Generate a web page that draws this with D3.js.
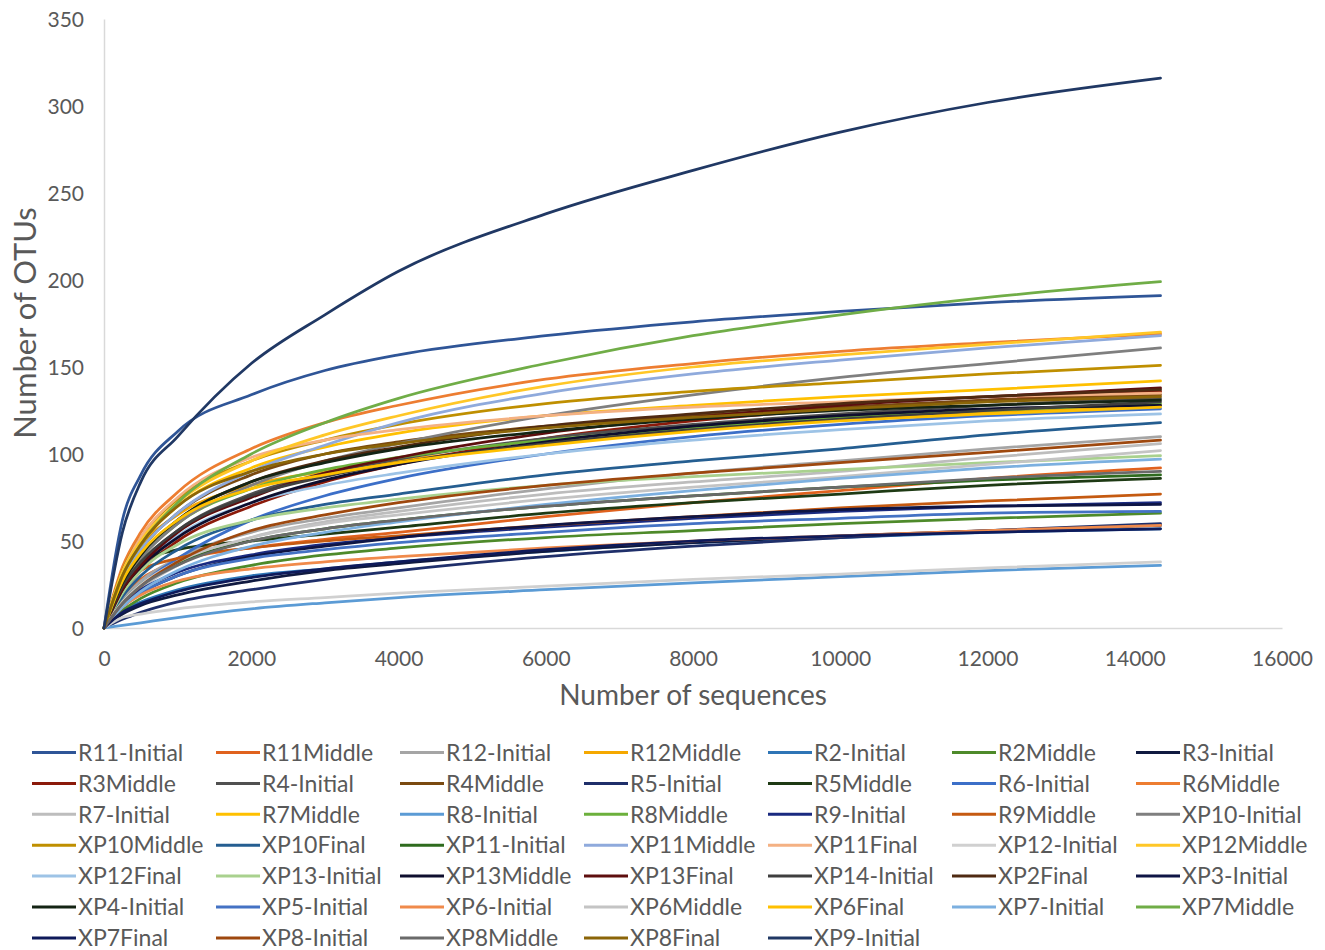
<!DOCTYPE html>
<html>
<head>
<meta charset="utf-8">
<script src="https://cdn.jsdelivr.net/npm/d3@7"></script>
<style>
  body { margin: 0; background: #fff; }
  svg text { font-family: Lato, "Open Sans", sans-serif; fill: #595959; }
</style>
</head>
<body>
<div id="graph-holder"></div>
<script>
// sample points along the x axis (number of sequences)
var seqCounts = [0, 250, 500, 1000, 2000, 3000, 4000, 6000, 8000, 10000, 12000, 14350];

// OTU counts at those sample points
var R11_Initial = [0, 62, 88, 113, 134, 148, 157, 168, 176, 182, 187, 191];
var R11Middle   = [0, 18, 28, 38, 46, 51, 55, 64, 72, 79, 86, 92];
var R12_Initial = [0, 16, 27, 40, 55, 63, 69, 80, 89, 96, 103, 110];
var R12Middle   = [0, 30, 47, 65, 82, 90, 96, 106, 114, 120, 124, 128];
var R2_Initial  = [0, 10, 15, 22, 30, 34, 38, 44, 49, 52, 55, 57];
var R2Middle    = [0, 10, 17, 26, 36, 42, 46, 52, 56, 60, 63, 66];
var R3_Initial  = [0, 8, 13, 19, 27, 33, 37, 44, 49, 53, 56, 59];
var R3Middle    = [0, 20, 33, 50, 70, 84, 94, 109, 119, 126, 131, 136];
var R4_Initial  = [0, 23, 37, 56, 77, 89, 97, 109, 117, 123, 128, 132];
var R4Middle    = [0, 28, 45, 66, 88, 100, 107, 116, 122, 127, 131, 134];
var R5_Initial  = [0, 5, 9, 15, 22, 28, 33, 41, 47, 52, 56, 60];
var R5Middle    = [0, 28, 38, 45, 50, 54, 58, 66, 72, 77, 82, 86];
var R6_Initial  = [0, 15, 25, 40, 62, 76, 86, 100, 110, 117, 122, 126];
var R6Middle    = [0, 35, 55, 78, 103, 118, 128, 143, 152, 159, 164, 169];
var R7_Initial  = [0, 14, 23, 36, 52, 61, 67, 77, 84, 90, 98, 106];
var R7Middle    = [0, 30, 48, 70, 92, 104, 112, 122, 128, 133, 137, 142];
var R8_Initial  = [0, 1.5, 3, 6, 11, 14.5, 17.5, 22, 26, 29.5, 33, 36];
var R8Middle    = [0, 25, 40, 60, 80, 91, 98, 108, 115, 121, 125, 129];
var R9_Initial  = [0, 14, 22, 32, 42, 48, 52, 58, 63, 67, 70, 72];
var R9Middle    = [0, 22, 33, 40, 46, 50, 53, 59, 64, 69, 73, 77];
var XP10_Initial = [0, 25, 40, 60, 82, 96, 106, 122, 134, 144, 152, 161];
var XP10Middle   = [0, 33, 52, 74, 96, 108, 117, 129, 136, 141, 146, 151];
var XP10Final    = [0, 18, 30, 45, 62, 71, 77, 88, 96, 103, 111, 118];
var XP11_Initial = [0, 15, 25, 37, 50, 57, 62, 70, 76, 81, 85, 88];
var XP11Middle   = [0, 28, 45, 66, 90, 105, 118, 135, 146, 154, 161, 168];
var XP11Final    = [0, 32, 52, 75, 98, 108, 114, 122, 127, 130, 133, 135];
var XP12_Initial = [0, 6, 8, 11, 15, 17.5, 20, 24, 28, 31, 34.5, 38];
var XP12Middle   = [0, 32, 50, 72, 96, 111, 122, 139, 150, 157, 163, 170];
var XP12Final    = [0, 22, 36, 53, 72, 82, 89, 100, 108, 114, 119, 123];
var XP13_Initial = [0, 20, 33, 48, 62, 69, 74, 82, 87, 91, 95, 99];
var XP13Middle   = [0, 22, 35, 52, 72, 85, 94, 107, 116, 122, 126, 128];
var XP13Final    = [0, 22, 36, 55, 75, 89, 98, 112, 121, 128, 133, 138];
var XP14_Initial = [0, 24, 38, 56, 76, 87, 95, 106, 114, 120, 125, 130];
var XP2Final     = [0, 26, 42, 62, 84, 96, 104, 116, 123, 129, 133, 137];
var XP3_Initial  = [0, 12, 20, 30, 41, 47, 52, 59, 64, 68, 70, 71];
var XP4_Initial  = [0, 26, 42, 62, 84, 95, 103, 113, 120, 125, 128, 131];
var XP5_Initial  = [0, 12, 20, 30, 40, 45, 49, 55, 60, 63, 66, 67];
var XP6_Initial  = [0, 12, 19, 27, 34, 38, 41, 46, 50, 53, 56, 59];
var XP6Middle    = [0, 15, 25, 38, 52, 60, 65, 74, 81, 87, 94, 102];
var XP6Final     = [0, 27, 43, 62, 80, 88, 95, 105, 113, 119, 123, 127];
var XP7_Initial  = [0, 12, 21, 33, 47, 55, 61, 71, 79, 86, 92, 97];
var XP7Middle    = [0, 30, 48, 72, 100, 118, 132, 152, 168, 180, 190, 199];
var XP7Final     = [0, 9, 14, 21, 29, 34, 38, 45, 50, 53, 55, 57];
var XP8_Initial  = [0, 14, 24, 38, 56, 65, 72, 82, 89, 95, 101, 108];
var XP8Middle    = [0, 14, 24, 36, 50, 57, 62, 70, 76, 81, 86, 90];
var XP8Final     = [0, 30, 48, 70, 90, 100, 106, 115, 121, 126, 130, 133];
var XP9_Initial  = [0, 55, 84, 110, 152, 180, 205, 238, 263, 285, 302, 316];

var seriesNames = [
  "R11-Initial", "R11Middle", "R12-Initial", "R12Middle", "R2-Initial", "R2Middle", "R3-Initial",
  "R3Middle", "R4-Initial", "R4Middle", "R5-Initial", "R5Middle", "R6-Initial", "R6Middle",
  "R7-Initial", "R7Middle", "R8-Initial", "R8Middle", "R9-Initial", "R9Middle", "XP10-Initial",
  "XP10Middle", "XP10Final", "XP11-Initial", "XP11Middle", "XP11Final", "XP12-Initial", "XP12Middle",
  "XP12Final", "XP13-Initial", "XP13Middle", "XP13Final", "XP14-Initial", "XP2Final", "XP3-Initial",
  "XP4-Initial", "XP5-Initial", "XP6-Initial", "XP6Middle", "XP6Final", "XP7-Initial", "XP7Middle",
  "XP7Final", "XP8-Initial", "XP8Middle", "XP8Final", "XP9-Initial"
];

var seriesValues = [
  R11_Initial, R11Middle, R12_Initial, R12Middle, R2_Initial, R2Middle, R3_Initial,
  R3Middle, R4_Initial, R4Middle, R5_Initial, R5Middle, R6_Initial, R6Middle,
  R7_Initial, R7Middle, R8_Initial, R8Middle, R9_Initial, R9Middle, XP10_Initial,
  XP10Middle, XP10Final, XP11_Initial, XP11Middle, XP11Final, XP12_Initial, XP12Middle,
  XP12Final, XP13_Initial, XP13Middle, XP13Final, XP14_Initial, XP2Final, XP3_Initial,
  XP4_Initial, XP5_Initial, XP6_Initial, XP6Middle, XP6Final, XP7_Initial, XP7Middle,
  XP7Final, XP8_Initial, XP8Middle, XP8Final, XP9_Initial
];

var seriesColors = [
  "#2F5597", "#E0621E", "#A5A5A5", "#F5A800", "#2E75B6", "#4E8A2A", "#101A40",
  "#8B1A0A", "#505050", "#7A4A10", "#1F2F6A", "#1E3A14", "#3C6FC8", "#ED7D31",
  "#BDBDBD", "#FFC000", "#5B9BD5", "#6CB03C", "#1A2A80", "#C55A11", "#7F7F7F",
  "#BF8F00", "#255E91", "#2E6B1E", "#8FAADC", "#F4B183", "#D0D0D0", "#FFC727",
  "#9DC3E6", "#A9D18E", "#0E0E2E", "#5E0E0E", "#3F3F3F", "#4F2A12", "#0E1545",
  "#142414", "#4472C4", "#F08A4B", "#C4C4C4", "#FFC000", "#7CB0E0", "#70AD47",
  "#0E1A5A", "#9E480E", "#6A6A6A", "#8B6508", "#203864"
];

var xTicks = [0, 2000, 4000, 6000, 8000, 10000, 12000, 14000, 16000];
var yTicks = [0, 50, 100, 150, 200, 250, 300, 350];

function drawChart() {
  var width = 1325, height = 950;
  var margin = { top: 19, left: 104 };
  var plotW = 1178, plotH = 609;

  var svg = d3.select("#graph-holder")
    .append("svg")
    .attr("width", width)
    .attr("height", height);

  var g = svg.append("g")
    .attr("transform", "translate(" + margin.left + "," + margin.top + ")");

  var x = d3.scaleLinear().domain([0, 16000]).range([0, plotW]);
  var y = d3.scaleLinear().domain([0, 350]).range([plotH, 0]);

  // axes, Excel style: light gray lines, no tick marks
  var xAxis = g.append("g")
    .attr("transform", "translate(0," + plotH + ")")
    .call(d3.axisBottom(x).tickValues(xTicks).tickSize(0).tickPadding(23).tickFormat(d3.format("d")));
  var yAxis = g.append("g")
    .call(d3.axisLeft(y).tickValues(yTicks).tickSize(0).tickPadding(20));

  [xAxis, yAxis].forEach(function(ax) {
    ax.select(".domain").attr("stroke", "#D9D9D9").attr("stroke-width", 1.5);
    ax.selectAll("text").style("font-size", "21px").attr("fill", "#595959");
  });
  yAxis.selectAll("text").attr("dy", "0.36em");

  // the curves
  var line = d3.line()
    .x(function(d) { return x(d[0]); })
    .y(function(d) { return y(d[1]); })
    .curve(d3.curveMonotoneX);

  seriesValues.forEach(function(vals, i) {
    var pts = vals.map(function(v, j) { return [seqCounts[j], v]; });
    g.append("path")
      .datum(pts)
      .attr("d", line)
      .attr("fill", "none")
      .attr("stroke", seriesColors[i])
      .attr("stroke-width", 2.75)
      .attr("stroke-linejoin", "round")
      .attr("stroke-linecap", "round");
  });

  // axis titles
  svg.append("text")
    .text("Number of sequences")
    .attr("x", 693)
    .attr("y", 705)
    .attr("text-anchor", "middle")
    .style("font-size", "28px");

  svg.append("text")
    .text("Number of OTUs")
    .attr("transform", "translate(36,323) rotate(-90)")
    .attr("text-anchor", "middle")
    .style("font-size", "31px");

  // legend, 7 columns
  var legend = svg.selectAll(".lineLegend")
    .data(seriesNames)
    .enter()
    .append("g")
    .attr("class", "lineLegend")
    .attr("transform", function(d, i) {
      return "translate(" + (32 + (i % 7) * 184) + "," + (752.5 + Math.floor(i / 7) * 30.9) + ")";
    });

  legend.append("line")
    .attr("x1", 0).attr("x2", 44)
    .attr("y1", 0).attr("y2", 0)
    .attr("stroke", function(d, i) { return seriesColors[i]; })
    .attr("stroke-width", 3);

  legend.append("text")
    .text(function(d) { return d; })
    .attr("x", 46)
    .attr("dy", "0.36em")
    .style("font-size", "23px");
}

drawChart();
</script>
</body>
</html>
